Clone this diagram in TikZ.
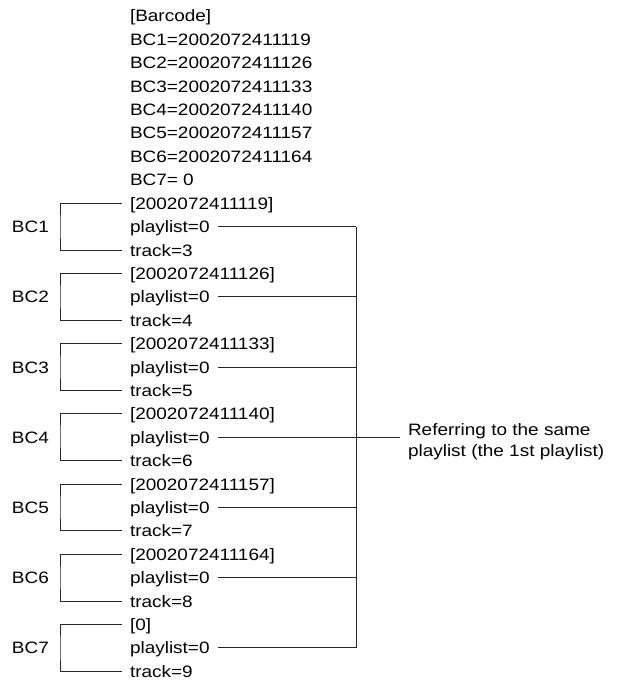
\documentclass[tikz,border=0pt]{standalone}
\usepackage{fontspec}
\setmainfont{Liberation Sans}[FakeStretch=1.15]
\usepackage{tikz}

\begin{document}
\begin{tikzpicture}[x=1pt, y=-1pt, line width=0.9pt, black!85,
    entry/.style={anchor=west, inner sep=0pt, outer xsep=8pt, black,
        text height=15pt, text depth=3pt, font=\fontsize{16.5}{21}\selectfont},
    bclabel/.style={entry, outer xsep=0pt},
    note/.style={entry, align=left, text height=, text depth=}]
    \useasboundingbox (0,0) rectangle (616,684);

    % Barcode list
    \node[entry] (barcode) at (122,16) {[Barcode]};
    \foreach \i/\code in {1/2002072411119, 2/2002072411126, 3/2002072411133,
        4/2002072411140, 5/2002072411157, 6/2002072411164, 7/{\ 0}}
        \node[entry] (bc\i) at (122,16+23.4*\i) {BC\i=\code};

    % One block per barcode
    \foreach \k/\code/\trk in {1/2002072411119/3, 2/2002072411126/4,
        3/2002072411133/5, 4/2002072411140/6, 5/2002072411157/7,
        6/2002072411164/8, 7/0/9} {
        \pgfmathsetmacro\yh{16+23.4*(5+3*\k)}
        \node[entry] (head\k) at (122,\yh) {[\code]};
        \node[entry] (list\k) at (122,\yh+23.4) {playlist=0};
        \node[entry] (track\k) at (122,\yh+46.8) {track=\trk};
        \node[bclabel] (lbl\k) at (12,\yh+23.4) {BC\k};
        \coordinate (brk\k) at (60,\yh+23.4);
        \coordinate (join\k) at (356,\yh+23.4);
        \draw (head\k.west) -| (brk\k) |- (track\k.west);
        \draw (list\k.east) -- (join\k);
    }

    % Common playlist
    \draw (join1) -- (join7);
    \node[note] (same) at (400,442) {Referring to the same\\playlist (the 1st playlist)};
    \draw (join4) -- (join4 -| same.west);
\end{tikzpicture}
\end{document}
